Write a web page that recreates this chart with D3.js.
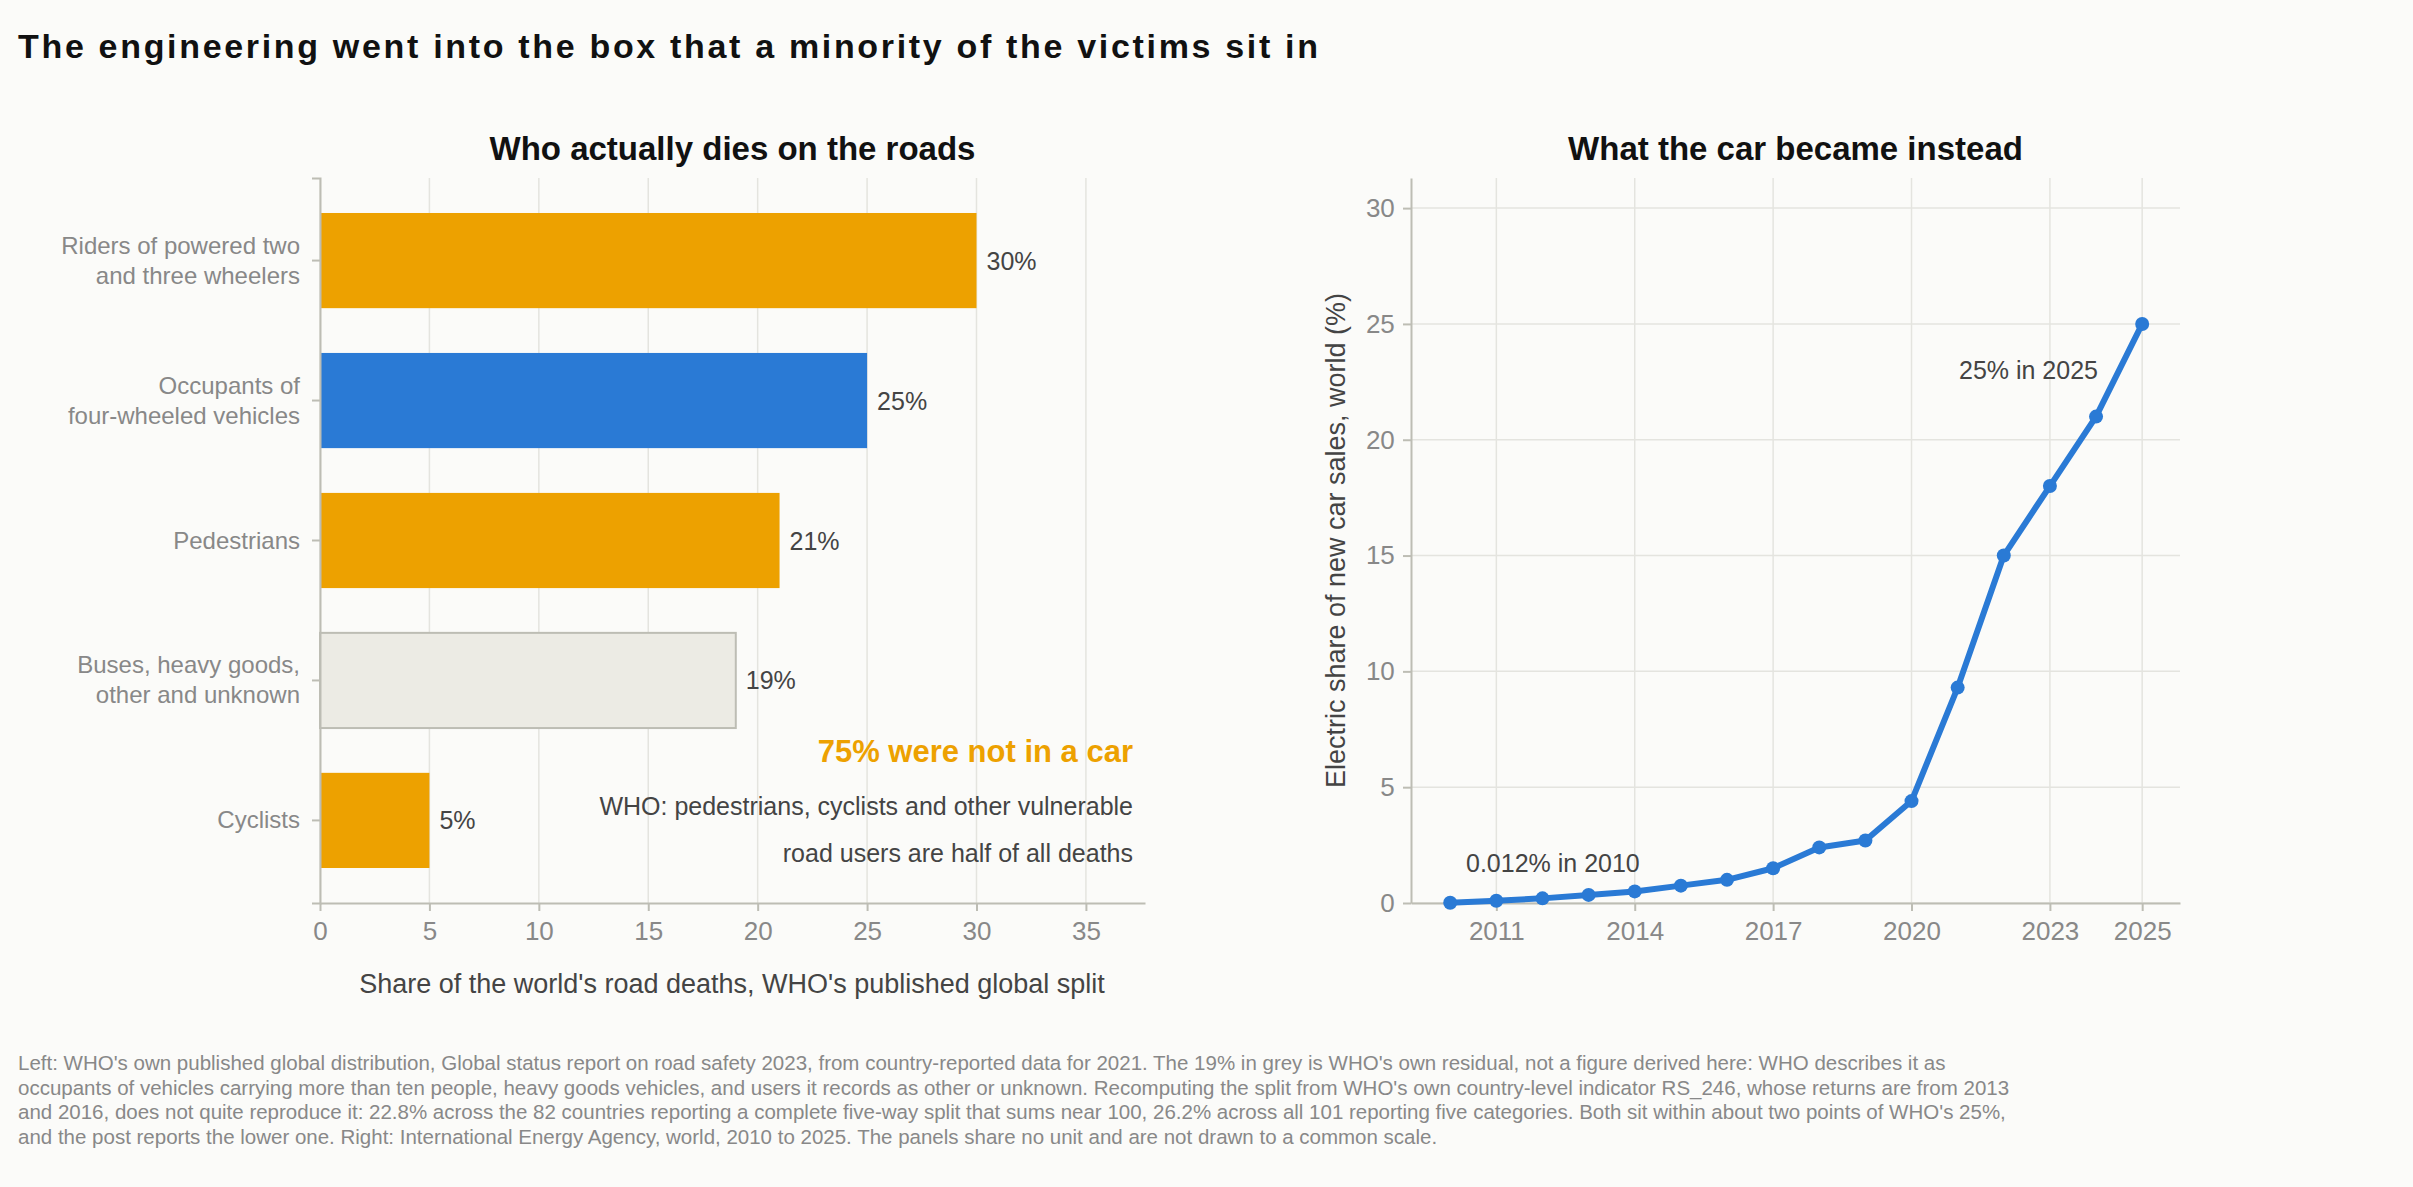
<!DOCTYPE html><html><head><meta charset="utf-8"><script src="https://cdn.jsdelivr.net/npm/d3@7"></script>
<style>body{margin:0;background:#fbfbf9;font-family:"Liberation Sans",Arial,sans-serif}</style></head><body><svg id="c" width="2413" height="1187"></svg><script>
const categories=["Riders of powered two|and three wheelers","Occupants of|four-wheeled vehicles","Pedestrians","Buses, heavy goods,|other and unknown","Cyclists"];
const shares=[30,25,21,19,5];
const barColors=["#eda100","#2a7ad5","#eda100","#ecebe4","#eda100"];
const years=[2010,2011,2012,2013,2014,2015,2016,2017,2018,2019,2020,2021,2022,2023,2024,2025];
const evShare=[0.012,0.1,0.2,0.35,0.5,0.75,1.0,1.5,2.4,2.7,4.4,9.3,15,18,21,25];
const xTicksLeft=[0,5,10,15,20,25,30,35];
const yearTicks=[2011,2014,2017,2020,2023,2025];
const yTicksRight=[0,5,10,15,20,25,30];
const svg=d3.select("#c");
const grey="#888", axisC="#bdbdb4", gridC="#e4e4df";
svg.append("text").attr("x",18).attr("y",58).attr("font-size",34).attr("font-weight","bold").attr("fill","#111").attr("textLength",1300).text("The engineering went into the box that a minority of the victims sit in");
// Left
const L={l:320,r:1145,t:178,b:903};
const x=d3.scaleLinear().domain([0,37.7]).range([L.l,L.r]);
const y=d3.scaleBand().domain(categories).range([L.t,L.b]).paddingInner(0.32).paddingOuter(0.25);
const gL=svg.append("g");
xTicksLeft.forEach(t=>gL.append("line").attr("x1",x(t)).attr("x2",x(t)).attr("y1",L.t).attr("y2",L.b).attr("stroke",gridC).attr("stroke-width",1.5));
gL.selectAll("rect").data(shares).join("rect").attr("x",x(0)).attr("y",(d,i)=>y(categories[i])).attr("width",d=>x(d)-x(0)).attr("height",y.bandwidth()).attr("fill",(d,i)=>barColors[i]).attr("stroke",(d,i)=>i==3?"#bdbdb4":"none").attr("stroke-width",2);
gL.selectAll(".v").data(shares).join("text").attr("x",d=>x(d)+10).attr("y",(d,i)=>y(categories[i])+y.bandwidth()/2+9).attr("font-size",25).attr("fill","#444").text(d=>d+"%");
const ax=gL.append("g").attr("transform",`translate(0,${L.b})`).call(d3.axisBottom(x).tickValues(xTicksLeft).tickSize(8).tickSizeOuter(0));
ax.select(".domain").attr("stroke",axisC).attr("stroke-width",2);ax.selectAll("line").attr("stroke",axisC).attr("stroke-width",2);
ax.selectAll("text").attr("font-size",26).attr("fill",grey).attr("dy","1.0em").style("font-family","Liberation Sans");
const ay=gL.append("g").attr("transform",`translate(${L.l},0)`).call(d3.axisLeft(y).tickSize(8).tickFormat(""));
ay.select(".domain").attr("stroke",axisC).attr("stroke-width",2);ay.selectAll("line").attr("stroke",axisC).attr("stroke-width",2);
categories.forEach(c=>{const ls=c.split("|");ls.forEach((s,j)=>gL.append("text").attr("x",L.l-20).attr("y",y(c)+y.bandwidth()/2+8+(j-(ls.length-1)/2)*30).attr("text-anchor","end").attr("font-size",24).attr("fill",grey).text(s));});
gL.append("text").attr("x",(L.l+L.r)/2).attr("y",160).attr("text-anchor","middle").attr("font-size",33).attr("font-weight","bold").attr("fill","#111").text("Who actually dies on the roads");
gL.append("text").attr("x",732).attr("y",993).attr("text-anchor","middle").attr("font-size",27).attr("fill","#444").text("Share of the world's road deaths, WHO's published global split");
gL.append("text").attr("x",1133).attr("y",762).attr("text-anchor","end").attr("font-size",31).attr("font-weight","bold").attr("fill","#eda100").text("75% were not in a car");
gL.append("text").attr("x",1133).attr("y",815).attr("text-anchor","end").attr("font-size",25).attr("fill","#444").text("WHO: pedestrians, cyclists and other vulnerable");
gL.append("text").attr("x",1133).attr("y",862).attr("text-anchor","end").attr("font-size",25).attr("fill","#444").text("road users are half of all deaths");
// Right
const R={l:1411,r:2180,t:178,b:903};
const xr=d3.scaleLinear().domain([2009.15,2025.82]).range([R.l,R.r]);
const yr=d3.scaleLinear().domain([0,31.3]).range([R.b,R.t]);
const gR=svg.append("g");
yearTicks.forEach(t=>gR.append("line").attr("x1",xr(t)).attr("x2",xr(t)).attr("y1",R.t).attr("y2",R.b).attr("stroke",gridC).attr("stroke-width",1.5));
yTicksRight.forEach(t=>gR.append("line").attr("x1",R.l).attr("x2",R.r).attr("y1",yr(t)).attr("y2",yr(t)).attr("stroke",gridC).attr("stroke-width",1.5));
const bx=gR.append("g").attr("transform",`translate(0,${R.b})`).call(d3.axisBottom(xr).tickValues(yearTicks).tickFormat(d3.format("d")).tickSize(8).tickSizeOuter(0));
bx.select(".domain").attr("stroke",axisC).attr("stroke-width",2);bx.selectAll("line").attr("stroke",axisC).attr("stroke-width",2);
bx.selectAll("text").attr("font-size",26).attr("fill",grey).attr("dy","1.0em").style("font-family","Liberation Sans");
const by=gR.append("g").attr("transform",`translate(${R.l},0)`).call(d3.axisLeft(yr).tickValues(yTicksRight).tickSize(8).tickSizeOuter(0));
by.select(".domain").attr("stroke",axisC).attr("stroke-width",2);by.selectAll("line").attr("stroke",axisC).attr("stroke-width",2);
by.selectAll("text").attr("font-size",26).attr("fill",grey).attr("dx","-0.2em").style("font-family","Liberation Sans");
const pts=years.map((yy,i)=>[yy,evShare[i]]);
gR.append("path").datum(pts).attr("d",d3.line().x(d=>xr(d[0])).y(d=>yr(d[1]))).attr("fill","none").attr("stroke","#2a7ad5").attr("stroke-width",6).attr("stroke-linejoin","round");
gR.selectAll("circle").data(pts).join("circle").attr("cx",d=>xr(d[0])).attr("cy",d=>yr(d[1])).attr("r",7).attr("fill","#2a7ad5");
gR.append("text").attr("x",(R.l+R.r)/2).attr("y",160).attr("text-anchor","middle").attr("font-size",33).attr("font-weight","bold").attr("fill","#111").text("What the car became instead");
gR.append("text").attr("transform",`translate(1345,${(R.t+R.b)/2}) rotate(-90)`).attr("text-anchor","middle").attr("font-size",27).attr("fill","#444").text("Electric share of new car sales, world (%)");
gR.append("text").attr("x",1466).attr("y",872).attr("font-size",25).attr("fill","#444").text("0.012% in 2010");
gR.append("text").attr("x",2098).attr("y",379).attr("text-anchor","end").attr("font-size",25).attr("fill","#444").text("25% in 2025");
const foot=["Left: WHO's own published global distribution, Global status report on road safety 2023, from country-reported data for 2021. The 19% in grey is WHO's own residual, not a figure derived here: WHO describes it as","occupants of vehicles carrying more than ten people, heavy goods vehicles, and users it records as other or unknown. Recomputing the split from WHO's own country-level indicator RS_246, whose returns are from 2013","and 2016, does not quite reproduce it: 22.8% across the 82 countries reporting a complete five-way split that sums near 100, 26.2% across all 101 reporting five categories. Both sit within about two points of WHO's 25%,","and the post reports the lower one. Right: International Energy Agency, world, 2010 to 2025. The panels share no unit and are not drawn to a common scale."];
foot.forEach((s,i)=>svg.append("text").attr("x",18).attr("y",1070+i*24.5).attr("font-size",20.5).attr("fill","#888").text(s));
</script></body></html>
